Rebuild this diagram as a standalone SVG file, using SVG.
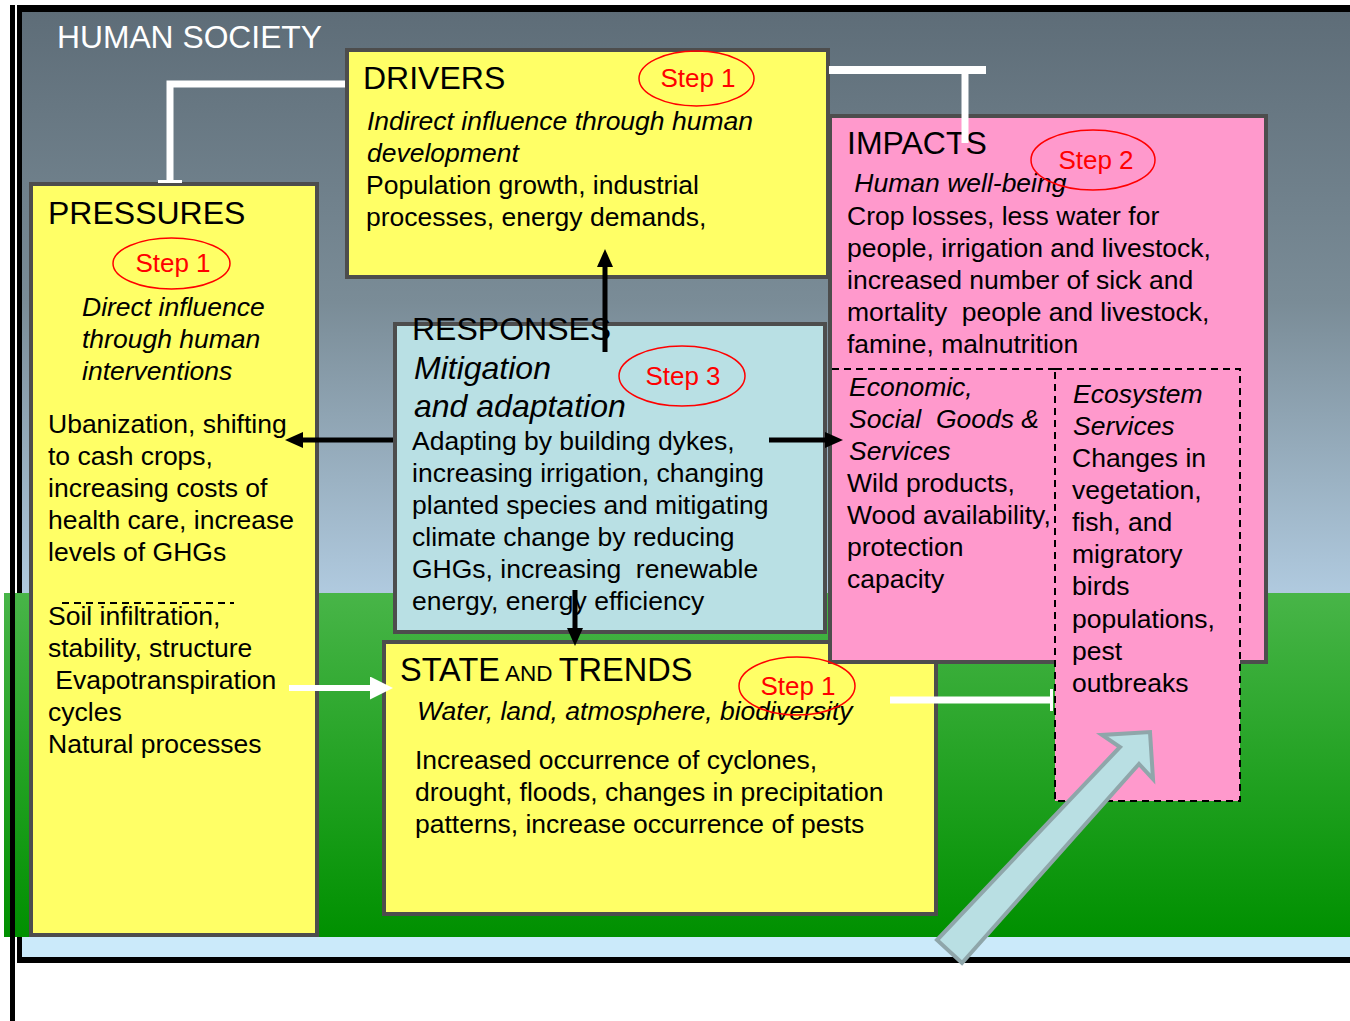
<svg xmlns="http://www.w3.org/2000/svg" width="1350" height="1021" viewBox="0 0 1350 1021">
<defs>
<linearGradient id="sky" gradientUnits="userSpaceOnUse" x1="0" y1="12" x2="0" y2="593"><stop offset="0" stop-color="#5e6d78"/><stop offset="0.5" stop-color="#7a8c97"/><stop offset="1" stop-color="#b0cadf"/></linearGradient>
<linearGradient id="grass" gradientUnits="userSpaceOnUse" x1="0" y1="593" x2="0" y2="937"><stop offset="0" stop-color="#48b548"/><stop offset="1" stop-color="#009000"/></linearGradient>
<marker id="ah" markerUnits="userSpaceOnUse" markerWidth="18" markerHeight="16" viewBox="0 0 18 16" refX="0" refY="8" orient="auto"><path d="M0,0 L18,8 L0,16 z" fill="#000"/></marker>
<marker id="wh" markerUnits="userSpaceOnUse" markerWidth="23" markerHeight="23" viewBox="0 0 23 23" refX="0" refY="11.5" orient="auto"><path d="M0,0 L23,11.5 L0,23 z" fill="#fff"/></marker>
</defs>
<style>
text { font-family: "Liberation Sans", Arial, Helvetica, sans-serif; font-size: 26.5px; fill: #000; white-space: pre; }
.h { font-size: 32px; }
.i { font-style: italic; }
.box { stroke: #4d4d4d; stroke-width: 4; }
.y { fill: #ffff66; }
.p { fill: #ff99cc; }
.b { fill: #b9e0e4; }
.step ellipse { fill: none; stroke: #ff0000; stroke-width: 1.5; }
.step text { fill: #ff0000; text-anchor: middle; font-size: 26px; }
.dash { fill: none; stroke: #000; stroke-width: 2; stroke-dasharray: 7 5; }
.wl { stroke: #fff; fill: none; }
.bl { stroke: #000; stroke-width: 5; fill: none; }
</style>
<g id="background">
<rect x="17" y="5" width="1333" height="958" fill="#000"/>
<rect x="22" y="12" width="1328" height="581" fill="url(#sky)"/>
<rect x="4" y="593" width="1346" height="344" fill="url(#grass)"/>
<rect x="22" y="937" width="1328" height="20" fill="#cbeafa"/>
<rect x="10" y="5" width="5" height="1016" fill="#000"/>
<text x="57" y="48" style="font-size:31.8px;fill:#fff">HUMAN SOCIETY</text>
</g>
<g id="pressures">
<rect class="box y" x="31" y="184" width="286" height="751"/>
<text class="h" x="48" y="224">PRESSURES</text>
<g class="step"><ellipse cx="171.5" cy="263.5" rx="58.5" ry="25.5"/><text x="173" y="272">Step 1</text></g>
<text class="i" x="82" y="316">Direct influence</text>
<text class="i" x="82" y="348">through human</text>
<text class="i" x="82" y="380">interventions</text>
<text x="48" y="433">Ubanization, shifting</text>
<text x="48" y="465">to cash crops,</text>
<text x="48" y="497">increasing costs of</text>
<text x="48" y="529">health care, increase</text>
<text x="48" y="561">levels of GHGs</text>
<line class="dash" x1="62" y1="603" x2="234" y2="603"/>
<text x="48" y="625">Soil infiltration,</text>
<text x="48" y="657">stability, structure</text>
<text x="48" y="689"> Evapotranspiration</text>
<text x="48" y="721">cycles</text>
<text x="48" y="753">Natural processes</text>
</g>
<g id="drivers">
<rect class="box y" x="347" y="50" width="481" height="227"/>
<text class="h" x="363" y="89">DRIVERS</text>
<g class="step"><ellipse cx="696.5" cy="78.5" rx="57.5" ry="27.5"/><text x="698" y="87">Step 1</text></g>
<text class="i" x="367" y="130">Indirect influence through human</text>
<text class="i" x="367" y="162">development</text>
<text x="366" y="194">Population growth, industrial</text>
<text x="366" y="226">processes, energy demands,</text>
</g>
<g id="responses">
<rect class="box b" x="395" y="324" width="430" height="308"/>
<text class="h" x="412" y="340">RESPONSES</text>
<text class="h i" x="414" y="379">Mitigation</text>
<text class="h i" x="414" y="417">and adaptation</text>
<g class="step"><ellipse cx="682" cy="376" rx="63" ry="30"/><text x="683" y="385">Step 3</text></g>
<text x="412" y="450">Adapting by building dykes,</text>
<text x="412" y="482">increasing irrigation, changing</text>
<text x="412" y="514">planted species and mitigating</text>
<text x="412" y="546">climate change by reducing</text>
<text x="412" y="578">GHGs, increasing  renewable</text>
<text x="412" y="610">energy, energy efficiency</text>
</g>
<g id="state">
<rect class="box y" x="384" y="642" width="552" height="272"/>
<text class="h" x="400" y="681" style="font-size:32.5px">STATE<tspan style="font-size:22.5px"> AND </tspan>TRENDS</text>
<text class="i" x="417" y="720">Water, land, atmosphere, biodiversity</text>
<text x="415" y="769">Increased occurrence of cyclones,</text>
<text x="415" y="801">drought, floods, changes in precipitation</text>
<text x="415" y="833">patterns, increase occurrence of pests</text>
</g>
<g id="impacts">
<rect class="box p" x="830" y="116" width="436" height="546"/>
<text class="h" x="847" y="154">IMPACTS</text>
<text class="i" x="847" y="192"> Human well-being</text>
<g class="step"><ellipse cx="1093" cy="160" rx="62" ry="30"/><text x="1096" y="169">Step 2</text></g>
<text x="847" y="225">Crop losses, less water for</text>
<text x="847" y="257">people, irrigation and livestock,</text>
<text x="847" y="289">increased number of sick and</text>
<text x="847" y="321">mortality  people and livestock,</text>
<text x="847" y="353">famine, malnutrition</text>
<line class="dash" x1="832" y1="369" x2="1055" y2="369"/>
<text class="i" x="849" y="396">Economic,</text>
<text class="i" x="849" y="428">Social  Goods &amp;</text>
<text class="i" x="849" y="460">Services</text>
<text x="847" y="492">Wild products,</text>
<text x="847" y="524">Wood availability,</text>
<text x="847" y="556">protection</text>
<text x="847" y="588">capacity</text>
</g>
<g id="ecosystem-services">
<rect class="p" x="1055" y="369" width="185" height="432"/>
<rect class="dash" x="1055" y="369" width="185" height="432"/>
<text class="i" x="1073" y="403">Ecosystem</text>
<text class="i" x="1073" y="435">Services</text>
<text x="1072" y="467">Changes in</text>
<text x="1072" y="499">vegetation,</text>
<text x="1072" y="531">fish, and</text>
<text x="1072" y="563">migratory</text>
<text x="1072" y="595">birds</text>
<text x="1072" y="628">populations,</text>
<text x="1072" y="660">pest</text>
<text x="1072" y="692">outbreaks</text>
</g>
<g id="state-step" class="step"><ellipse cx="797" cy="686" rx="58" ry="29"/><text x="798" y="695">Step 1</text></g>
<g id="connectors">
<path class="wl" d="M345,84 H170 V182" stroke-width="7"/>
<path class="wl" d="M158,181.5 H182" stroke-width="3"/>
<path class="wl" d="M829,70 H986" stroke-width="8"/>
<path class="wl" d="M965,70 V143" stroke-width="7"/>
<line class="bl" x1="605" y1="352" x2="605" y2="267" marker-end="url(#ah)"/>
<line class="bl" x1="575" y1="590" x2="575" y2="628" marker-end="url(#ah)"/>
<line class="bl" x1="393" y1="440" x2="303" y2="440" marker-end="url(#ah)"/>
<line class="bl" x1="769" y1="440" x2="825" y2="440" marker-end="url(#ah)"/>
<line class="wl" x1="289" y1="688" x2="370" y2="688" stroke-width="6" marker-end="url(#wh)"/>
<path class="wl" d="M890,700 H1052" stroke-width="7"/>
<path class="wl" d="M1051.5,689 V711" stroke-width="3"/>
<polygon points="937,940 1120,747 1102,735 1150,732 1153,779 1139,764 962,963" fill="#b9dfe3" stroke="#8fa6aa" stroke-width="4" stroke-linejoin="miter"/>
</g>
</svg>
